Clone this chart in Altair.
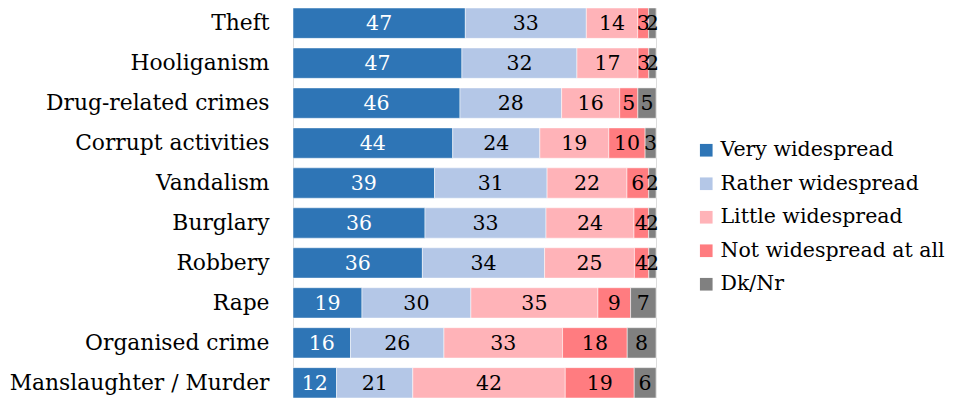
import altair as alt
import pandas as pd

crimes = ["Theft", "Hooliganism", "Drug-related crimes", "Corrupt activities", "Vandalism",
          "Burglary", "Robbery", "Rape", "Organised crime", "Manslaughter / Murder"]
categories = ["Very widespread", "Rather widespread", "Little widespread",
              "Not widespread at all", "Dk/Nr"]
very = [47, 47, 46, 44, 39, 36, 36, 19, 16, 12]
rather = [33, 32, 28, 24, 31, 33, 34, 30, 26, 21]
little = [14, 17, 16, 19, 22, 24, 25, 35, 33, 42]
notatall = [3, 3, 5, 10, 6, 4, 4, 9, 18, 19]
dknr = [2, 2, 5, 3, 2, 2, 2, 7, 8, 6]
colors = ["#2E75B6", "#B4C7E7", "#FFB3B8", "#FF7C80", "#808080"]
text_colors = ["#FFFFFF", "#000000", "#000000", "#000000", "#000000"]

series = [very, rather, little, notatall, dknr]
rows = []
for i, crime in enumerate(crimes):
    vals = [s[i] for s in series]
    total = sum(vals)
    cum = 0
    for j, cat in enumerate(categories):
        start = cum / total
        cum += vals[j]
        end = cum / total
        rows.append({"crime": crime, "cat": cat, "order": j, "value": vals[j],
                     "start": start, "end": end, "mid": (start + end) / 2,
                     "tcolor": text_colors[j]})
df = pd.DataFrame(rows)

FONT = "DejaVu Serif"

y = alt.Y("crime:N", sort=crimes, title=None,
          scale=alt.Scale(paddingInner=0.24, paddingOuter=0),
          axis=alt.Axis(ticks=False, domain=False, labelFont=FONT, labelFontSize=21.8,
                        labelColor="#000000", labelPadding=24, labelLimit=300))

bars = alt.Chart(df).mark_bar(stroke="#FFFFFF", strokeWidth=0.5).encode(
    x=alt.X("start:Q", scale=alt.Scale(domain=[0, 1], nice=False), axis=None),
    x2="end:Q",
    y=y,
    color=alt.Color("cat:N", sort=categories,
                    scale=alt.Scale(domain=categories, range=colors),
                    legend=alt.Legend(title=None, orient="none", legendX=403, legendY=132,
                                      symbolType="square", symbolSize=160,
                                      symbolStrokeWidth=0,
                                      labelFont=FONT, labelFontSize=20.5, labelColor="#000000",
                                      rowPadding=12.5, labelOffset=4, labelLimit=400)),
    order="order:Q",
)

labels = alt.Chart(df).mark_text(font=FONT, fontSize=20.5, baseline="middle", dy=1).encode(
    x=alt.X("mid:Q", scale=alt.Scale(domain=[0, 1], nice=False)),
    y=alt.Y("crime:N", sort=crimes),
    text="value:Q",
    color=alt.Color("tcolor:N", scale=None),
)

chart = (bars + labels).properties(
    width=363, height=390,
    autosize=alt.AutoSizeParams(type="none"),
    padding={"left": 285, "top": 0, "right": 294, "bottom": 0},
).configure_view(stroke=None).configure(background="#FFFFFF")

chart.save("out.html", embed_options={"renderer": "svg", "actions": False})
